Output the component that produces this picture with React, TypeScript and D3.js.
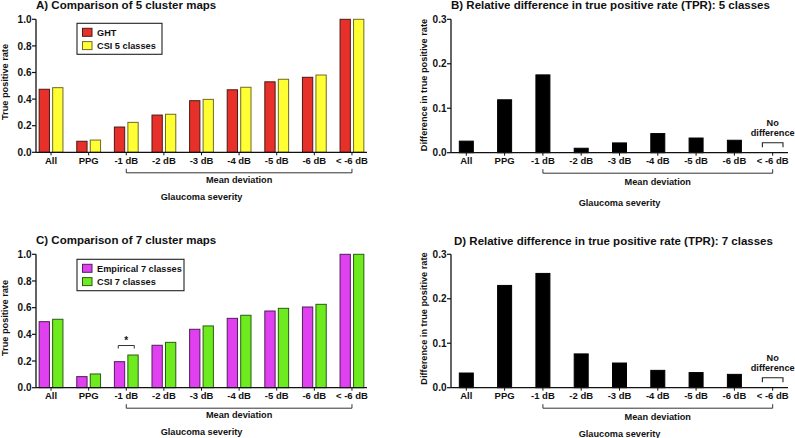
import React from "react";
import * as d3 from "d3";

const categories = ["All", "PPG", "-1 dB", "-2 dB", "-3 dB", "-4 dB", "-5 dB", "-6 dB", "< -6 dB"];
const mdStart = "-1 dB";
const mdEnd = "< -6 dB";

const ght = [0.474, 0.083, 0.19, 0.28, 0.388, 0.47, 0.53, 0.564, 1.0];
const csi5 = [0.486, 0.092, 0.225, 0.286, 0.398, 0.489, 0.549, 0.581, 1.0];
const diff5 = [0.026, 0.119, 0.175, 0.01, 0.022, 0.043, 0.033, 0.028, null];

const empirical7 = [0.495, 0.083, 0.195, 0.318, 0.438, 0.52, 0.575, 0.605, 1.0];
const csi7 = [0.513, 0.103, 0.245, 0.34, 0.463, 0.543, 0.595, 0.625, 1.0];
const diff7 = [0.033, 0.23, 0.257, 0.076, 0.0555, 0.039, 0.034, 0.03, null];

const tprTicks = [0, 0.2, 0.4, 0.6, 0.8, 1.0];
const diffTicks = [0, 0.1, 0.2, 0.3];

const FONT = "'Liberation Sans', Arial, Helvetica, sans-serif";

type Series = { name: string; values: (number | null)[]; fill: string; stroke: string };

type PanelProps = {
  title: string;
  titleX: number;
  titleY: number;
  x0: number;
  x1: number;
  yTop: number;
  yZero: number;
  yMax: number;
  ticks: number[];
  series: Series[];
  yLabel: string;
  yLabelCenter: number;
  yLabelX: number;
  barWidth: number;
  gap: number;
  legend?: { x: number; y: number; w: number; h: number };
  sig?: string;
  noDiff?: boolean;
  glaucomaDy: number;
  meanDy: number;
};

function Panel(p: PanelProps) {
  const x = d3.scalePoint<string>().domain(categories).range([p.x0, p.x1]).padding(0.4);
  const y = d3.scaleLinear().domain([0, p.yMax]).range([p.yZero, p.yTop]);
  const n = p.series.length;
  const fmt = d3.format(".1f");
  const bx0 = x(mdStart)!;
  const bx1 = x(mdEnd)!;
  const br = p.yZero + 20.5;
  return (
    <g fontFamily={FONT} fontWeight="bold">
      <text x={p.titleX} y={p.titleY} fontSize={11.5} fill="#111">{p.title}</text>
      {p.series.map((s, si) =>
        categories.map((c, i) => {
          const v = s.values[i];
          if (v == null) return null;
          const cx = x(c)!;
          let left: number;
          if (n === 1) left = cx - p.barWidth / 2;
          else left = si === 0 ? cx - p.gap / 2 - p.barWidth : cx + p.gap / 2;
          return (
            <rect
              key={s.name + c}
              x={left}
              y={y(v)}
              width={p.barWidth}
              height={p.yZero - y(v)}
              fill={s.fill}
              stroke={s.stroke}
              strokeWidth={1}
            />
          );
        })
      )}
      <line x1={p.x0} x2={p.x0} y1={p.yTop} y2={p.yZero} stroke="#111" strokeWidth={1.3} />
      {p.ticks.map((t) => (
        <g key={t}>
          <line x1={p.x0 - 4} x2={p.x0} y1={y(t)} y2={y(t)} stroke="#111" strokeWidth={1.2} />
          <text x={p.x0 - 4.5} y={y(t) + 3.6} fontSize={10} textAnchor="end" fill="#111">{fmt(t)}</text>
        </g>
      ))}
      <line x1={p.x0} x2={p.x1} y1={p.yZero} y2={p.yZero} stroke="#111" strokeWidth={1.3} />
      {categories.map((c) => (
        <g key={c}>
          <line x1={x(c)!} x2={x(c)!} y1={p.yZero} y2={p.yZero + 3} stroke="#111" strokeWidth={1} />
          <text x={x(c)!} y={p.yZero + 11.5} fontSize={9.5} textAnchor="middle" fill="#111">{c}</text>
        </g>
      ))}
      <path
        d={`M${bx0},${br - 4}V${br}H${bx1}V${br - 4}`}
        fill="none"
        stroke="#333"
        strokeWidth={1}
      />
      <text x={(bx0 + bx1) / 2} y={p.yZero + p.meanDy} fontSize={9.2} textAnchor="middle" fill="#111">Mean deviation</text>
      <text x={(p.x0 + p.x1) / 2} y={p.yZero + p.glaucomaDy} fontSize={9.2} textAnchor="middle" fill="#111">Glaucoma severity</text>
      <text
        transform={`translate(${p.yLabelX},${p.yLabelCenter}) rotate(-90)`}
        fontSize={9.2}
        textAnchor="middle"
        fill="#111"
      >
        {p.yLabel}
      </text>
      {p.legend && (
        <g>
          <rect x={p.legend.x} y={p.legend.y} width={p.legend.w} height={p.legend.h} fill="white" stroke="#222" strokeWidth={1.1} />
          {p.series.map((s, i) => (
            <g key={s.name}>
              <rect x={p.legend.x + 5.5} y={p.legend.y + 5 + i * 13.3} width={9.5} height={8} fill={s.fill} stroke={s.stroke} strokeWidth={1} />
              <text x={p.legend.x + 20} y={p.legend.y + 12.3 + i * 13.3} fontSize={9.2} fill="#111">{s.name}</text>
            </g>
          ))}
        </g>
      )}
      {p.sig && (() => {
        const cx = x(p.sig)!;
        const sy = y(Math.max(...p.series.map((s) => s.values[categories.indexOf(p.sig!)] as number))) - 9.5;
        return (
          <g>
            <path d={`M${cx - 8},${sy + 3}V${sy}H${cx + 8}V${sy + 3}`} fill="none" stroke="#333" strokeWidth={1} />
            <text x={cx} y={sy - 1.5} fontSize={10} textAnchor="middle" fill="#111">*</text>
          </g>
        );
      })()}
      {p.noDiff && (() => {
        const cx = x(mdEnd)!;
        const top = p.yZero - 10;
        return (
          <g>
            <path d={`M${cx - 10.3},${top + 4.6}V${top}H${cx + 10.3}V${top + 4.6}`} fill="none" stroke="#222" strokeWidth={1.1} />
            <text x={cx} y={top - 17} fontSize={9.2} textAnchor="middle" fill="#111">No</text>
            <text x={cx} y={top - 6.5} fontSize={9.2} textAnchor="middle" fill="#111">difference</text>
          </g>
        );
      })()}
    </g>
  );
}

export default function App() {
  const seriesA: Series[] = [
    { name: "GHT", values: ght, fill: "#E8302A", stroke: "#4a1a14" },
    { name: "CSI 5 classes", values: csi5, fill: "#FFFF33", stroke: "#6e6a28" },
  ];
  const seriesB: Series[] = [{ name: "diff5", values: diff5, fill: "#000", stroke: "#000" }];
  const seriesC: Series[] = [
    { name: "Empirical 7 classes", values: empirical7, fill: "#E040F0", stroke: "#4e1f58" },
    { name: "CSI 7 classes", values: csi7, fill: "#6EEB1E", stroke: "#2c5a14" },
  ];
  const seriesD: Series[] = [{ name: "diff7", values: diff7, fill: "#000", stroke: "#000" }];
  return (
    <svg
      width={795}
      height={438}
      style={{ position: "absolute", left: 0, top: 0, background: "white" }}
    >
      <rect width={795} height={438} fill="white" />
      <Panel
        title="A) Comparison of 5 cluster maps"
        titleX={36}
        titleY={8.5}
        x0={36}
        x1={367}
        yTop={19.3}
        yZero={152.3}
        yMax={1}
        ticks={tprTicks}
        series={seriesA}
        yLabel="True positive rate"
        yLabelCenter={82}
        yLabelX={8}
        barWidth={10.3}
        gap={3.2}
        legend={{ x: 77, y: 23.3, w: 85, h: 31 }}
        glaucomaDy={48}
        meanDy={31}
      />
      <Panel
        title="B) Relative difference in true positive rate (TPR): 5 classes"
        titleX={451}
        titleY={8.5}
        x0={451}
        x1={788}
        yTop={19.3}
        yZero={152.7}
        yMax={0.3}
        ticks={diffTicks}
        series={seriesB}
        yLabel="Difference in true positive rate"
        yLabelCenter={85}
        yLabelX={427}
        barWidth={14}
        gap={0}
        noDiff
        glaucomaDy={53}
        meanDy={32}
      />
      <Panel
        title="C) Comparison of 7 cluster maps"
        titleX={36}
        titleY={244}
        x0={36}
        x1={367}
        yTop={254.3}
        yZero={387.7}
        yMax={1}
        ticks={tprTicks}
        series={seriesC}
        yLabel="True positive rate"
        yLabelCenter={318}
        yLabelX={8}
        barWidth={10.3}
        gap={3.2}
        legend={{ x: 77, y: 259.3, w: 107, h: 31.4 }}
        sig="-1 dB"
        glaucomaDy={47.5}
        meanDy={30}
      />
      <Panel
        title="D) Relative difference in true positive rate (TPR): 7 classes"
        titleX={454}
        titleY={245}
        x0={451}
        x1={788}
        yTop={254.3}
        yZero={387.7}
        yMax={0.3}
        ticks={diffTicks}
        series={seriesD}
        yLabel="Difference in true positive rate"
        yLabelCenter={318.5}
        yLabelX={427}
        barWidth={14}
        gap={0}
        noDiff
        glaucomaDy={49}
        meanDy={32}
      />
    </svg>
  );
}
